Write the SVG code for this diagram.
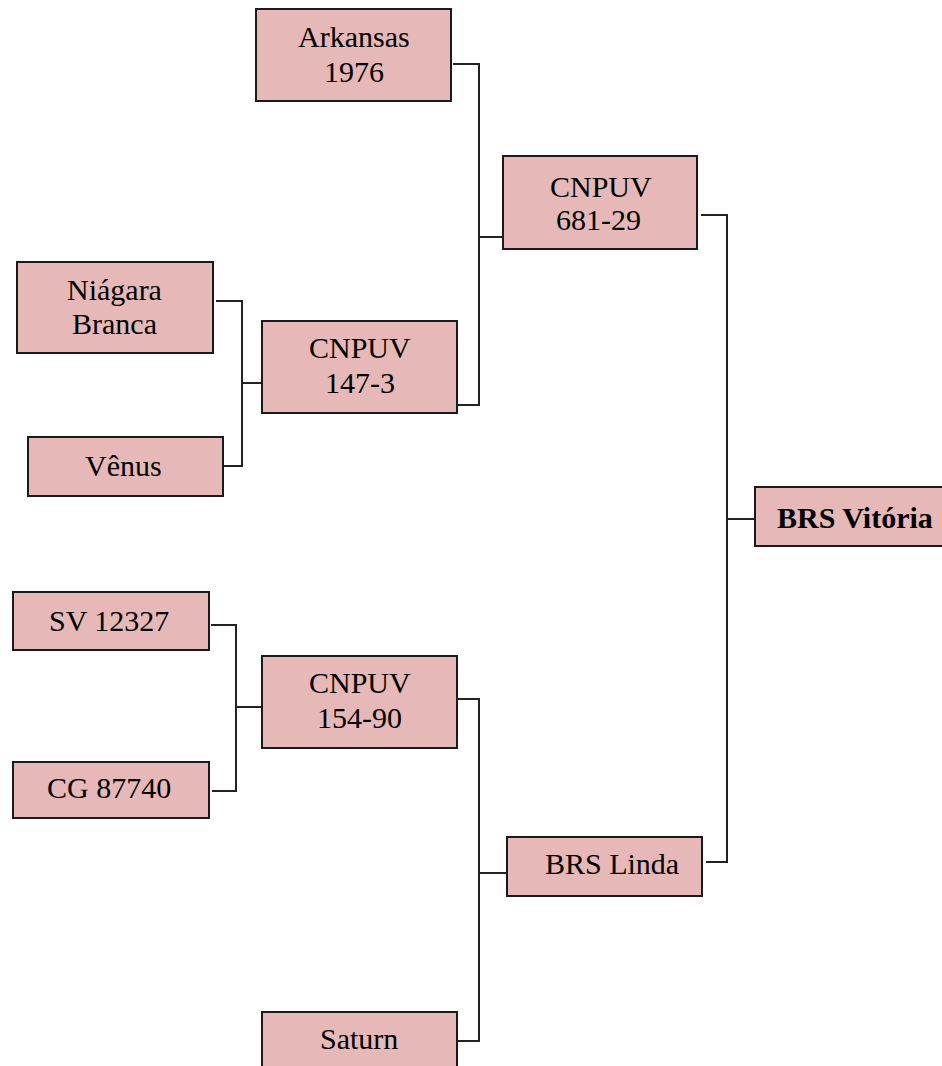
<svg xmlns="http://www.w3.org/2000/svg" width="942" height="1066" viewBox="0 0 942 1066">
<style>
.box{fill:#e6b8b7;stroke:#1a1a1a;stroke-width:2}
.c{fill:none;stroke:#222;stroke-width:2}
</style>
<rect width="942" height="1066" fill="#fff"/>
<g id="connectors">
<path class="c" d="M453,64 H479 V405 H455"/>
<path class="c" d="M479,237 H503"/>
<path class="c" d="M216,301 H242 V466 H220"/>
<path class="c" d="M242,383 H262"/>
<path class="c" d="M701,215 H727 V862 H706"/>
<path class="c" d="M727,519 H755"/>
<path class="c" d="M211,625 H236 V791 H212"/>
<path class="c" d="M236,707 H262"/>
<path class="c" d="M455,699 H479 V1041 H455"/>
<path class="c" d="M479,873 H507"/>
</g>
<g id="arkansas"><rect class="box" x="256" y="9" width="195" height="92"/><text font-family="Liberation Serif" font-size="30" x="298" y="47">Arkansas</text><text font-family="Liberation Serif" font-size="30" x="324" y="82">1976</text></g>
<g id="cnpuv681"><rect class="box" x="503" y="156" width="194" height="93"/><text font-family="Liberation Serif" font-size="30" x="550" y="197">CNPUV</text><text font-family="Liberation Serif" font-size="30" x="556" y="230">681-29</text></g>
<g id="niagara"><rect class="box" x="17" y="262" width="196" height="91"/><text font-family="Liberation Serif" font-size="30" x="67" y="300">Niágara</text><text font-family="Liberation Serif" font-size="30" x="72" y="334">Branca</text></g>
<g id="cnpuv147"><rect class="box" x="262" y="321" width="195" height="92"/><text font-family="Liberation Serif" font-size="30" x="309" y="358">CNPUV</text><text font-family="Liberation Serif" font-size="30" x="325" y="393">147-3</text></g>
<g id="venus"><rect class="box" x="28" y="437" width="195" height="59"/><text font-family="Liberation Serif" font-size="30" x="85" y="476">Vênus</text></g>
<g id="brsvitoria"><rect class="box" x="755" y="487" width="190" height="59"/><text font-family="Liberation Serif" font-size="30" font-weight="bold" x="777" y="528">BRS Vitória</text></g>
<g id="sv12327"><rect class="box" x="13" y="592" width="196" height="58"/><text font-family="Liberation Serif" font-size="30" x="49" y="631">SV 12327</text></g>
<g id="cnpuv154"><rect class="box" x="262" y="656" width="195" height="92"/><text font-family="Liberation Serif" font-size="30" x="309" y="693">CNPUV</text><text font-family="Liberation Serif" font-size="30" x="317" y="728">154-90</text></g>
<g id="cg87740"><rect class="box" x="13" y="762" width="196" height="56"/><text font-family="Liberation Serif" font-size="30" x="47" y="798">CG 87740</text></g>
<g id="brslinda"><rect class="box" x="507" y="837" width="195" height="59"/><text font-family="Liberation Serif" font-size="30" x="545" y="874">BRS Linda</text></g>
<g id="saturn"><rect class="box" x="262" y="1012" width="195" height="60"/><text font-family="Liberation Serif" font-size="30" x="320" y="1049">Saturn</text></g>
</svg>
